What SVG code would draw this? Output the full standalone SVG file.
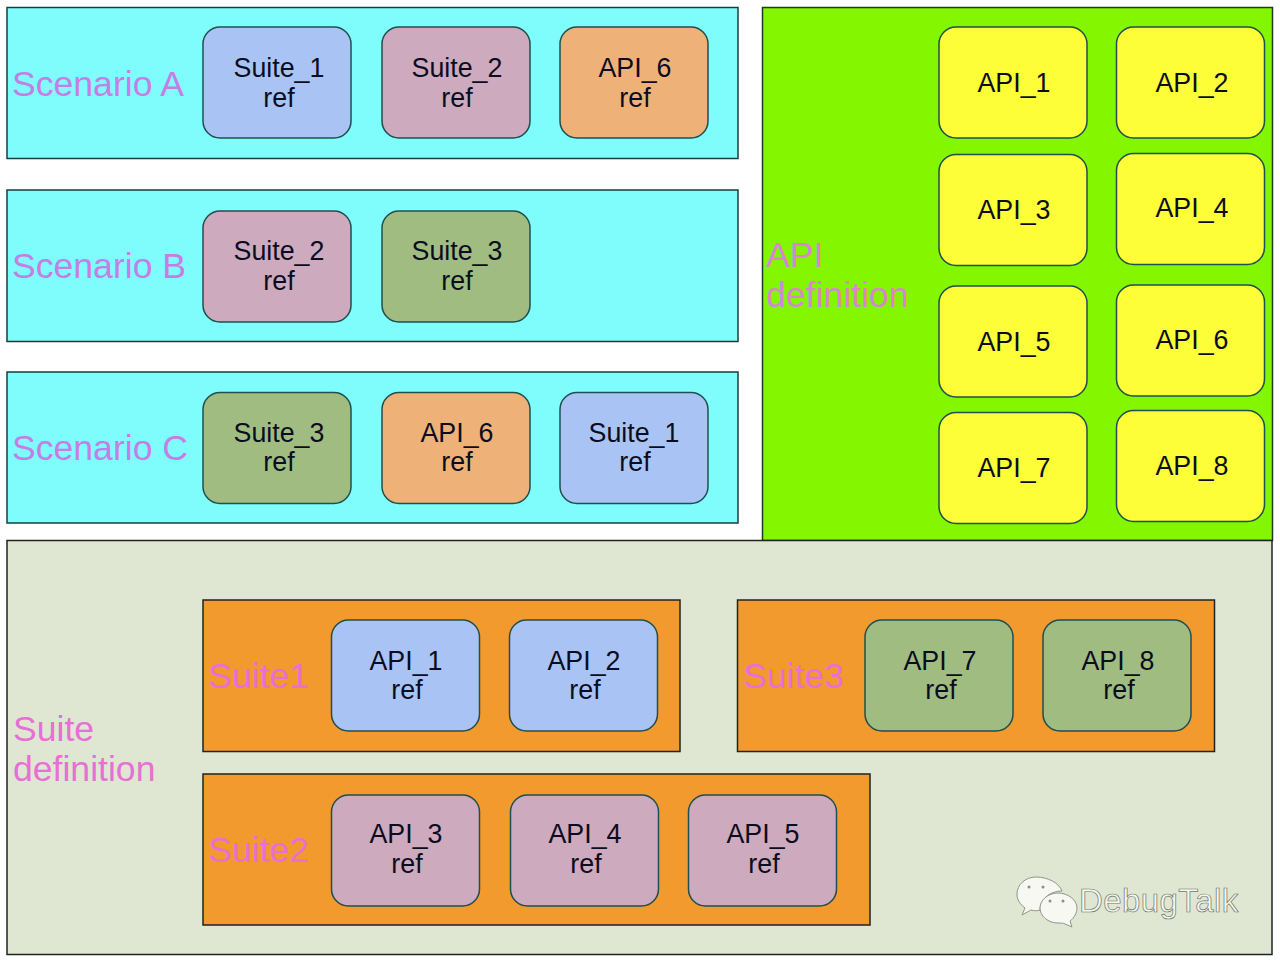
<svg xmlns="http://www.w3.org/2000/svg" width="1280" height="961" viewBox="0 0 1280 961">
<style>
text{font-family:"Liberation Sans",Arial,sans-serif}
.panel{stroke:#1c3c3c;stroke-width:1.5}
.cy{fill:#7ffcfc}
.node{stroke:#1f4f4f;stroke-width:1.5}
.blue{fill:#a9c4f4}.plum{fill:#cdaabd}.green{fill:#a0bc80}.amber{fill:#eeb278}.yellow{fill:#fdfd38}
.t{font-size:26.800px;fill:#0c0c20;text-anchor:middle}
.lab{font-size:35.600px;fill:#c47fe6}
.pink{font-size:35.600px;fill:#e76fd6}
.wm{font-size:33px;fill:#f4f7ef;stroke:#6f766a;stroke-width:.7;letter-spacing:.4px}
</style>
<defs>
<rect id="n" width="148" height="111" rx="17" ry="17"/>
</defs>
<rect width="1280" height="961" fill="#fff"/>
<g id="scenarioA">
<rect class="panel cy" x="7" y="7.500" width="731" height="151"/>
<text class="lab" x="12" y="96">Scenario A</text>
</g>
<g id="scenarioB">
<rect class="panel cy" x="7" y="190" width="731" height="151.500"/>
<text class="lab" x="12" y="278">Scenario B</text>
</g>
<g id="scenarioC">
<rect class="panel cy" x="7" y="372" width="731" height="151"/>
<text class="lab" x="12" y="460">Scenario C</text>
</g>
<g id="apiDefinition">
<rect x="762.500" y="7.500" width="510" height="533" fill="#83f600" stroke="#1c3c1c" stroke-width="1.500"/>
<text class="lab" x="766" y="267" style="fill:#d687d0">API</text>
<text class="lab" x="766" y="307" style="fill:#d687d0">definition</text>
</g>
<g id="suiteDefinition">
<rect x="7" y="540.500" width="1265" height="414" fill="#dfe7d2" stroke="#222" stroke-width="1.500"/>
<text class="pink" x="13" y="741">Suite</text>
<text class="pink" x="13" y="781">definition</text>
</g>
<g id="suite1">
<rect x="203" y="600" width="477" height="151.500" fill="#f39a2e" stroke="#222" stroke-width="1.500"/>
<text class="pink" x="208" y="688">Suite1</text>
</g>
<g id="suite3">
<rect x="737.500" y="600" width="477" height="151.500" fill="#f39a2e" stroke="#222" stroke-width="1.500"/>
<text class="pink" x="743" y="688">Suite3</text>
</g>
<g id="suite2">
<rect x="203" y="774" width="667" height="151" fill="#f39a2e" stroke="#222" stroke-width="1.500"/>
<text class="pink" x="208" y="862">Suite2</text>
</g>
<g id="a1"><use href="#n" x="203" y="27" class="node blue"/><text class="t" x="279" y="77">Suite_1</text><text class="t" x="279" y="107">ref</text></g>
<g id="a2"><use href="#n" x="382" y="27" class="node plum"/><text class="t" x="457" y="77">Suite_2</text><text class="t" x="457" y="107">ref</text></g>
<g id="a3"><use href="#n" x="560" y="27" class="node amber"/><text class="t" x="635" y="77">API_6</text><text class="t" x="635" y="107">ref</text></g>
<g id="b1"><use href="#n" x="203" y="211" class="node plum"/><text class="t" x="279" y="260">Suite_2</text><text class="t" x="279" y="290">ref</text></g>
<g id="b2"><use href="#n" x="382" y="211" class="node green"/><text class="t" x="457" y="260">Suite_3</text><text class="t" x="457" y="290">ref</text></g>
<g id="c1"><use href="#n" x="203" y="392.500" class="node green"/><text class="t" x="279" y="442">Suite_3</text><text class="t" x="279" y="471">ref</text></g>
<g id="c2"><use href="#n" x="382" y="392.500" class="node amber"/><text class="t" x="457" y="442">API_6</text><text class="t" x="457" y="471">ref</text></g>
<g id="c3"><use href="#n" x="560" y="392.500" class="node blue"/><text class="t" x="634" y="442">Suite_1</text><text class="t" x="635" y="471">ref</text></g>
<g id="api1"><use href="#n" x="939" y="27" class="node yellow"/><text class="t" x="1014" y="92">API_1</text></g>
<g id="api2"><use href="#n" x="1116.500" y="27" class="node yellow"/><text class="t" x="1192" y="92">API_2</text></g>
<g id="api3"><use href="#n" x="939" y="154.500" class="node yellow"/><text class="t" x="1014" y="219">API_3</text></g>
<g id="api4"><use href="#n" x="1116.500" y="153.500" class="node yellow"/><text class="t" x="1192" y="217">API_4</text></g>
<g id="api5"><use href="#n" x="939" y="286" class="node yellow"/><text class="t" x="1014" y="351">API_5</text></g>
<g id="api6"><use href="#n" x="1116.500" y="285" class="node yellow"/><text class="t" x="1192" y="349">API_6</text></g>
<g id="api7"><use href="#n" x="939" y="412.500" class="node yellow"/><text class="t" x="1014" y="477">API_7</text></g>
<g id="api8"><use href="#n" x="1116.500" y="410.500" class="node yellow"/><text class="t" x="1192" y="475">API_8</text></g>
<g id="s1a"><use href="#n" x="331.500" y="620" class="node blue"/><text class="t" x="406" y="670">API_1</text><text class="t" x="407" y="699">ref</text></g>
<g id="s1b"><use href="#n" x="509.500" y="620" class="node blue"/><text class="t" x="584" y="670">API_2</text><text class="t" x="585" y="699">ref</text></g>
<g id="s3a"><use href="#n" x="865" y="620" class="node green"/><text class="t" x="940" y="670">API_7</text><text class="t" x="941" y="699">ref</text></g>
<g id="s3b"><use href="#n" x="1043" y="620" class="node green"/><text class="t" x="1118" y="670">API_8</text><text class="t" x="1119" y="699">ref</text></g>
<g id="s2a"><use href="#n" x="331.500" y="795" class="node plum"/><text class="t" x="406" y="843">API_3</text><text class="t" x="407" y="873">ref</text></g>
<g id="s2b"><use href="#n" x="510.500" y="795" class="node plum"/><text class="t" x="585" y="843">API_4</text><text class="t" x="586" y="873">ref</text></g>
<g id="s2c"><use href="#n" x="688.500" y="795" class="node plum"/><text class="t" x="763" y="843">API_5</text><text class="t" x="764" y="873">ref</text></g>
<g id="watermark">
<path d="M1036 877c-11 0-19 8-19 17 0 6 3 10 8 14l-3 7 9-5c3 1 6 1 9 0 0-10 9-19 22-19-3-8-14-14-26-14z" fill="#f6f8f1" stroke="#8f968a" stroke-width="1"/>
<path d="M1058 893c-10 0-18 7-18 15s8 15 18 15c3 0 5 0 7 1l7 3-2-6c4-3 7-8 7-13 0-8-9-15-19-15z" fill="#f6f8f1" stroke="#8f968a" stroke-width="1"/>
<circle cx="1029" cy="887" r="1.500" fill="#8a9184"/><circle cx="1043" cy="887" r="1.500" fill="#8a9184"/>
<circle cx="1050" cy="901" r="1.500" fill="#8a9184"/><circle cx="1063" cy="901" r="1.500" fill="#8a9184"/>
<text class="wm" x="1079" y="912">DebugTalk</text>
</g>
</svg>
